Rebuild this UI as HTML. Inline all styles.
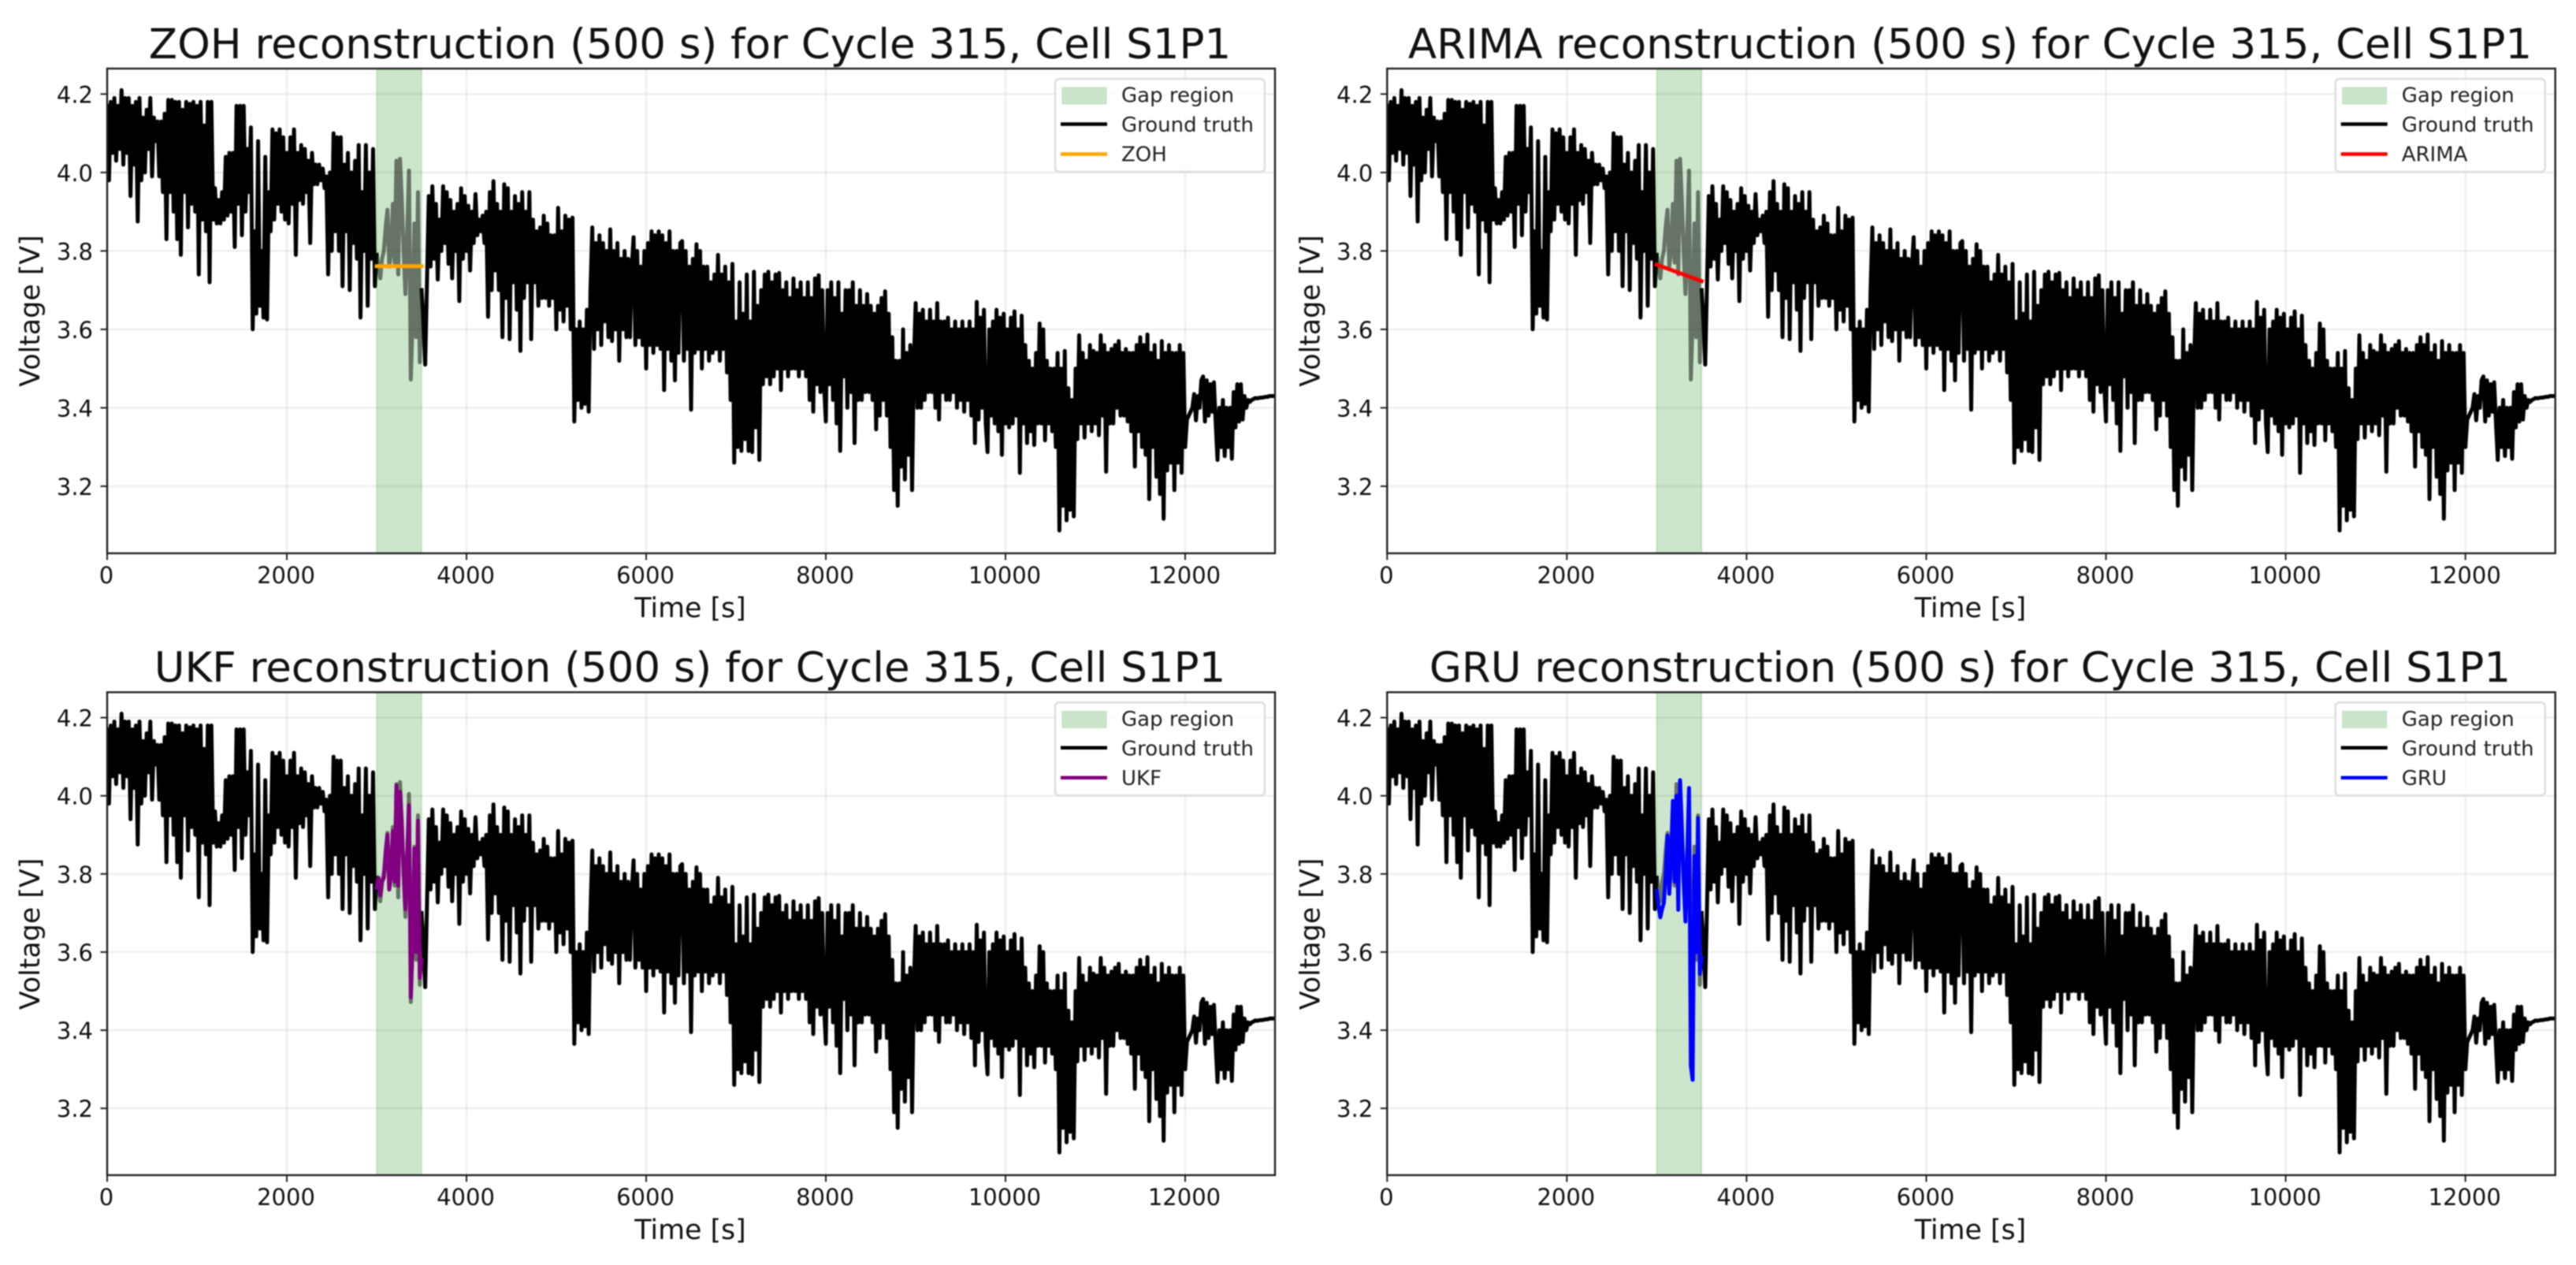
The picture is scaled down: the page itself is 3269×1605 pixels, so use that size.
<!DOCTYPE html>
<html lang="en">
<head>
<meta charset="utf-8">
<title>Voltage reconstruction comparison</title>
<style>
html,body{margin:0;padding:0;background:#fff;width:3269px;height:1605px;overflow:hidden}
svg{display:block;filter:blur(0.7px)}
text{font-family:"DejaVu Sans","Liberation Sans",sans-serif;fill:#111}
.title{font-size:53px;text-anchor:middle}
.axis-label{font-size:34.8px;text-anchor:middle}
.legend-text{font-size:26px;fill:#222}
.tick-label{font-size:29px}
</style>
</head>
<body>
<svg id="figure" xmlns="http://www.w3.org/2000/svg" width="3269" height="1605" viewBox="0 0 3269 1605">
<rect x="0" y="0" width="3269" height="1605" fill="#fff"/>

<g id="panel-zoh">
  <g class="plot"></g>
  <text class="title" x="875.5" y="74">ZOH reconstruction (500 s) for Cycle 315, Cell S1P1</text>
  <text class="axis-label" x="876" y="783">Time [s]</text>
  <text class="axis-label" transform="translate(50 394.5) rotate(-90)">Voltage [V]</text>
  <g transform="translate(1618 87)">
    <rect x="-279" y="13" width="266" height="118" rx="5" fill="rgba(255,255,255,.8)" stroke="#ddd" stroke-width="2.5"/>
    <rect x="-270" y="24" width="56" height="21" fill="#cbe5cb" stroke="#bfe0bf" stroke-width="1"/>
    <line x1="-272" x2="-213" y1="70.5" y2="70.5" stroke="#000" stroke-width="4.5"/>
    <line x1="-272" x2="-213" y1="108.5" y2="108.5" stroke="#ffa500" stroke-width="4.5"/>
    <text class="legend-text" x="-195" y="42.5">Gap region</text>
    <text class="legend-text" x="-195" y="80">Ground truth</text>
    <text class="legend-text" x="-195" y="117.5">ZOH</text>
  </g>
</g>

<g id="panel-arima">
  <g class="plot"></g>
  <text class="title" x="2500" y="74">ARIMA reconstruction (500 s) for Cycle 315, Cell S1P1</text>
  <text class="axis-label" x="2500.5" y="783">Time [s]</text>
  <text class="axis-label" transform="translate(1674.4 394.5) rotate(-90)">Voltage [V]</text>
  <g transform="translate(3242.7 87)">
    <rect x="-279" y="13" width="266" height="118" rx="5" fill="rgba(255,255,255,.8)" stroke="#ddd" stroke-width="2.5"/>
    <rect x="-270" y="24" width="56" height="21" fill="#cbe5cb" stroke="#bfe0bf" stroke-width="1"/>
    <line x1="-272" x2="-213" y1="70.5" y2="70.5" stroke="#000" stroke-width="4.5"/>
    <line x1="-272" x2="-213" y1="108.5" y2="108.5" stroke="#ff0000" stroke-width="4.5"/>
    <text class="legend-text" x="-195" y="42.5">Gap region</text>
    <text class="legend-text" x="-195" y="80">Ground truth</text>
    <text class="legend-text" x="-195" y="117.5">ARIMA</text>
  </g>
</g>

<g id="panel-ukf">
  <g class="plot"></g>
  <text class="title" x="875.5" y="865">UKF reconstruction (500 s) for Cycle 315, Cell S1P1</text>
  <text class="axis-label" x="876" y="1572">Time [s]</text>
  <text class="axis-label" transform="translate(50 1185) rotate(-90)">Voltage [V]</text>
  <g transform="translate(1618 878.3)">
    <rect x="-279" y="13" width="266" height="118" rx="5" fill="rgba(255,255,255,.8)" stroke="#ddd" stroke-width="2.5"/>
    <rect x="-270" y="24" width="56" height="21" fill="#cbe5cb" stroke="#bfe0bf" stroke-width="1"/>
    <line x1="-272" x2="-213" y1="70.5" y2="70.5" stroke="#000" stroke-width="4.5"/>
    <line x1="-272" x2="-213" y1="108.5" y2="108.5" stroke="#800080" stroke-width="4.5"/>
    <text class="legend-text" x="-195" y="42.5">Gap region</text>
    <text class="legend-text" x="-195" y="80">Ground truth</text>
    <text class="legend-text" x="-195" y="117.5">UKF</text>
  </g>
</g>

<g id="panel-gru">
  <g class="plot"></g>
  <text class="title" x="2500" y="865">GRU reconstruction (500 s) for Cycle 315, Cell S1P1</text>
  <text class="axis-label" x="2500.5" y="1572">Time [s]</text>
  <text class="axis-label" transform="translate(1674.4 1185) rotate(-90)">Voltage [V]</text>
  <g transform="translate(3242.7 878.3)">
    <rect x="-279" y="13" width="266" height="118" rx="5" fill="rgba(255,255,255,.8)" stroke="#ddd" stroke-width="2.5"/>
    <rect x="-270" y="24" width="56" height="21" fill="#cbe5cb" stroke="#bfe0bf" stroke-width="1"/>
    <line x1="-272" x2="-213" y1="70.5" y2="70.5" stroke="#000" stroke-width="4.5"/>
    <line x1="-272" x2="-213" y1="108.5" y2="108.5" stroke="#0000ff" stroke-width="4.5"/>
    <text class="legend-text" x="-195" y="42.5">Gap region</text>
    <text class="legend-text" x="-195" y="80">Ground truth</text>
    <text class="legend-text" x="-195" y="117.5">GRU</text>
  </g>
</g>
</svg>

<script>
// ---- chart data ----
const xTickValues = [0, 2000, 4000, 6000, 8000, 10000, 12000];
const yTickValues = [3.2, 3.4, 3.6, 3.8, 4.0, 4.2];
const yTickLabels = ["3.2", "3.4", "3.6", "3.8", "4.0", "4.2"];
const xLimits = [0, 13000];
const yLimits = [3.029, 4.265];
const gapStart = 3000;
const gapEnd = 3500;

// ground truth is sampled every truthSampleSeconds; each row below covers 200 s
const truthSampleSeconds = 20;
const truthVolts = [
4.17,3.98,4.18,4.05,4.19,4.03,4.17,4.06,4.21,4.02,
4.19,4.05,4.19,3.94,4.17,4.02,4.18,3.875,4.19,3.98,
4.14,4.00,4.16,4.06,4.19,3.99,4.14,4.08,4.13,3.99,
4.13,3.95,4.15,3.83,4.185,3.95,4.185,3.90,4.18,3.83,
4.18,3.79,4.16,3.95,4.18,3.86,4.175,3.92,4.18,3.90,
4.17,3.74,4.18,3.88,4.12,3.85,4.18,3.72,4.18,3.88,
3.96,3.87,3.93,3.87,3.95,3.88,4.04,3.89,4.05,3.90,
4.05,3.81,4.17,3.92,4.17,3.84,4.17,3.90,4.06,3.95,
4.115,3.60,3.85,3.64,4.08,3.66,3.80,3.63,4.04,3.625,
3.95,3.85,4.11,3.88,4.10,3.92,4.11,3.90,4.09,3.88,
4.05,3.87,4.09,3.92,4.11,3.79,4.05,3.93,4.07,3.92,
4.06,3.95,4.03,3.82,4.05,3.97,4.02,3.97,4.02,3.98,
4.01,3.96,3.99,3.74,4.00,3.80,4.10,3.85,4.09,3.80,
4.09,3.71,4.02,3.85,4.05,3.70,4.00,3.82,4.03,3.78,
4.07,3.63,3.95,3.80,4.07,3.66,4.00,3.78,4.06,3.71,
3.79,3.76,3.73,3.78,3.80,3.86,3.905,3.76,3.80,3.92,
3.77,4.03,3.74,4.035,3.93,3.80,3.69,3.85,4.005,3.472,
3.62,3.87,3.58,3.95,3.516,3.70,3.62,3.51,3.72,3.94,
3.76,3.965,3.78,3.92,3.727,3.88,3.80,3.965,3.82,3.95,
3.767,3.93,3.73,3.90,3.80,3.92,3.672,3.96,3.78,3.94,
3.80,3.915,3.75,3.90,3.82,3.945,3.84,3.88,3.85,3.89,
3.82,3.90,3.632,3.95,3.70,3.978,3.75,3.92,3.70,3.90,
3.58,3.97,3.68,3.96,3.575,3.90,3.72,3.94,3.65,3.92,
3.545,3.95,3.68,3.90,3.72,3.95,3.575,3.88,3.72,3.85,
3.66,3.86,3.68,3.89,3.68,3.87,3.66,3.84,3.68,3.84,
3.60,3.91,3.65,3.85,3.62,3.89,3.66,3.88,3.60,3.885,
3.365,3.60,3.42,3.62,3.40,3.60,3.41,3.65,3.39,3.70,
3.86,3.55,3.82,3.60,3.84,3.56,3.82,3.62,3.80,3.58,
3.855,3.57,3.80,3.60,3.82,3.52,3.78,3.60,3.80,3.58,
3.78,3.58,3.76,3.835,3.56,3.80,3.58,3.76,3.56,3.80,
3.50,3.82,3.56,3.85,3.54,3.84,3.56,3.85,3.55,3.84,
3.445,3.82,3.55,3.85,3.52,3.80,3.47,3.80,3.54,3.82,
3.825,3.52,3.80,3.55,3.76,3.395,3.78,3.54,3.817,3.55,
3.80,3.50,3.76,3.55,3.76,3.52,3.72,3.54,3.74,3.55,
3.79,3.52,3.74,3.55,3.76,3.49,3.72,3.42,3.767,3.26,
3.62,3.30,3.72,3.29,3.64,3.32,3.74,3.29,3.62,3.287,
3.747,3.35,3.66,3.267,3.70,3.46,3.74,3.48,3.747,3.46,
3.72,3.48,3.74,3.50,3.744,3.445,3.70,3.50,3.72,3.48,
3.68,3.50,3.73,3.50,3.70,3.48,3.72,3.50,3.68,3.48,
3.72,3.42,3.68,3.39,3.73,3.46,3.738,3.44,3.70,3.46,
3.365,3.70,3.46,3.72,3.42,3.68,3.36,3.72,3.29,3.64,
3.48,3.70,3.40,3.70,3.44,3.72,3.31,3.66,3.42,3.70,
3.42,3.66,3.44,3.69,3.44,3.66,3.42,3.64,3.345,3.66,
3.38,3.68,3.42,3.697,3.38,3.64,3.30,3.58,3.19,3.52,
3.15,3.52,3.25,3.60,3.217,3.54,3.28,3.56,3.19,3.52,
3.667,3.40,3.64,3.40,3.65,3.42,3.62,3.44,3.65,3.44,
3.62,3.40,3.667,3.37,3.62,3.44,3.62,3.42,3.63,3.42,
3.60,3.44,3.62,3.40,3.60,3.42,3.62,3.39,3.60,3.42,
3.62,3.38,3.60,3.31,3.67,3.37,3.63,3.40,3.65,3.36,
3.287,3.60,3.38,3.62,3.36,3.65,3.34,3.63,3.28,3.64,
3.36,3.60,3.35,3.63,3.36,3.646,3.38,3.60,3.234,3.635,
3.36,3.56,3.31,3.52,3.34,3.50,3.305,3.54,3.36,3.615,
3.36,3.60,3.317,3.52,3.36,3.50,3.34,3.50,3.30,3.54,
3.087,3.50,3.15,3.545,3.113,3.45,3.14,3.42,3.123,3.50,
3.32,3.585,3.36,3.54,3.324,3.52,3.36,3.56,3.34,3.545,
3.36,3.54,3.33,3.585,3.38,3.56,3.237,3.54,3.36,3.55,
3.36,3.56,3.40,3.57,3.38,3.54,3.38,3.55,3.365,3.54,
3.34,3.54,3.25,3.56,3.34,3.58,3.30,3.56,3.28,3.587,
3.167,3.54,3.30,3.56,3.224,3.52,3.18,3.57,3.117,3.54,
3.24,3.56,3.26,3.54,3.19,3.54,3.26,3.56,3.234,3.54,
3.30,3.37,3.38,3.39,3.40,3.435,3.368,3.43,3.40,3.47,
3.48,3.365,3.47,3.38,3.46,3.39,3.465,3.36,3.267,3.40,
3.30,3.42,3.277,3.40,3.30,3.40,3.27,3.44,3.35,3.46,
3.365,3.46,3.37,3.43,3.40,3.42,3.415,3.42,3.422,3.425,
3.424,3.425,3.426,3.426,3.427,3.428,3.428,3.43,3.43,3.43,
3.43
];

const zohTimes = [3000, 3500];
const zohVolts = [3.761, 3.761];
const arimaTimes = [3000, 3500];
const arimaVolts = [3.765, 3.723];
const ukfTimes = [3000,3020,3040,3060,3080,3100,3120,3140,3160,3180,3200,3220,3240,3260,3280,3300,3320,3340,3360,3380,3400,3420,3440,3460,3480,3500];
const ukfVolts = [3.765,3.79,3.745,3.78,3.79,3.85,3.90,3.76,3.80,3.91,3.78,4.026,3.77,4.01,3.93,3.80,3.71,3.85,3.976,3.484,3.62,3.865,3.60,3.936,3.534,3.58];
const gruTimes = [3000,3020,3040,3060,3080,3100,3120,3140,3160,3180,3200,3220,3240,3260,3280,3300,3320,3340,3360,3380,3400,3420,3440,3460,3480,3500];
const gruVolts = [3.756,3.72,3.689,3.71,3.726,3.80,3.898,3.749,3.85,3.987,3.78,4.0,3.708,4.04,3.913,3.78,3.678,3.85,4.02,3.309,3.273,3.846,3.60,3.943,3.544,3.585];

// ---- layout ----
const NS = 'http://www.w3.org/2000/svg';
const truthTimes = truthVolts.map(function (v, i) { return i * truthSampleSeconds; });
const panels = [
  {id:'panel-zoh',   key:'zoh',   left:136,    right:1618,   top:87,    bottom:702,  color:'#ffa500', times:zohTimes,   volts:zohVolts},
  {id:'panel-arima', key:'arima', left:1760.3, right:3242.7, top:87,    bottom:702,  color:'#ff0000', times:arimaTimes, volts:arimaVolts},
  {id:'panel-ukf',   key:'ukf',   left:136,    right:1618,   top:878.3, bottom:1491, color:'#800080', times:ukfTimes,   volts:ukfVolts},
  {id:'panel-gru',   key:'gru',   left:1760.3, right:3242.7, top:878.3, bottom:1491, color:'#0000ff', times:gruTimes,   volts:gruVolts}
];

function xScale(p, t) { return p.left + (t - xLimits[0]) / (xLimits[1] - xLimits[0]) * (p.right - p.left); }
function yScale(p, v) { return p.bottom - (v - yLimits[0]) / (yLimits[1] - yLimits[0]) * (p.bottom - p.top); }
function make(parent, tag, attrs) {
  const el = document.createElementNS(NS, tag);
  for (const k in attrs) el.setAttribute(k, attrs[k]);
  parent.appendChild(el);
  return el;
}
function linePath(p, ts, vs, from, to) {
  const out = [];
  for (let i = 0; i < ts.length; i++) {
    if (ts[i] >= from && ts[i] <= to) out.push((out.length ? 'L' : 'M') + xScale(p, ts[i]).toFixed(2) + ' ' + yScale(p, vs[i]).toFixed(2));
  }
  return out.join('');
}

panels.forEach(function (p) {
  const g = document.querySelector('#' + p.id + ' .plot');
  const clipId = 'clip-' + p.key;
  const defs = make(g, 'defs', {});
  const clip = make(defs, 'clipPath', {id: clipId});
  make(clip, 'rect', {x: p.left, y: p.top, width: p.right - p.left, height: p.bottom - p.top});

  xTickValues.forEach(function (t) {
    const grid = make(g, 'line', {x1: xScale(p, t), x2: xScale(p, t), y1: p.top, y2: p.bottom, stroke: 'rgba(176,176,176,.2)', 'stroke-width': 2.6});
    
    
  });
  yTickValues.forEach(function (v) {
    const grid = make(g, 'line', {x1: p.left, x2: p.right, y1: yScale(p, v), y2: yScale(p, v), stroke: 'rgba(176,176,176,.2)', 'stroke-width': 2.6});
    
    
  });

  const marks = make(g, 'g', {'clip-path': 'url(#' + clipId + ')'});
  
  

  const common = {fill: 'none', 'stroke-width': 5, 'stroke-linejoin': 'round', 'stroke-linecap': 'square'};
  const before = make(marks, 'path', Object.assign({d: linePath(p, truthTimes, truthVolts, xLimits[0], gapStart), stroke: '#000'}, common));
  
  
  const after = make(marks, 'path', Object.assign({d: linePath(p, truthTimes, truthVolts, gapEnd, xLimits[1]), stroke: '#000'}, common));
  
  

  const span = make(marks, 'rect', {x: xScale(p, gapStart), y: p.top, width: xScale(p, gapEnd) - xScale(p, gapStart), height: p.bottom - p.top, fill: 'rgba(0,128,0,.2)', stroke: 'rgba(0,128,0,.12)', 'stroke-width': 2.5});
  
  

  const inside = make(marks, 'path', Object.assign({d: linePath(p, truthTimes, truthVolts, gapStart, gapEnd), stroke: '#000', 'stroke-opacity': .5}, common));
  
  

  const method = make(marks, 'path', Object.assign({d: linePath(p, p.times, p.volts, xLimits[0], xLimits[1]), stroke: p.color}, common));
  
  

  xTickValues.forEach(function (t) {
    const tick = make(g, 'line', {x1: xScale(p, t), x2: xScale(p, t), y1: p.bottom, y2: p.bottom + 8.5, stroke: '#222', 'stroke-width': 2});
    
    
    const label = make(g, 'text', {x: xScale(p, t) - 1, y: p.bottom + 38, 'text-anchor': 'middle', class: 'tick-label'});
    
    
    label.textContent = String(t);
  });
  yTickValues.forEach(function (v, i) {
    const tick = make(g, 'line', {x1: p.left - 8.5, x2: p.left, y1: yScale(p, v), y2: yScale(p, v), stroke: '#222', 'stroke-width': 2});
    
    
    const label = make(g, 'text', {x: p.left - 18, y: yScale(p, v) + 11, 'text-anchor': 'end', class: 'tick-label'});
    
    
    label.textContent = yTickLabels[i];
  });

  const frame = make(g, 'rect', {x: p.left, y: p.top, width: p.right - p.left, height: p.bottom - p.top, fill: 'none', stroke: '#222', 'stroke-width': 2.4});
  
  
});
</script>
</body>
</html>
